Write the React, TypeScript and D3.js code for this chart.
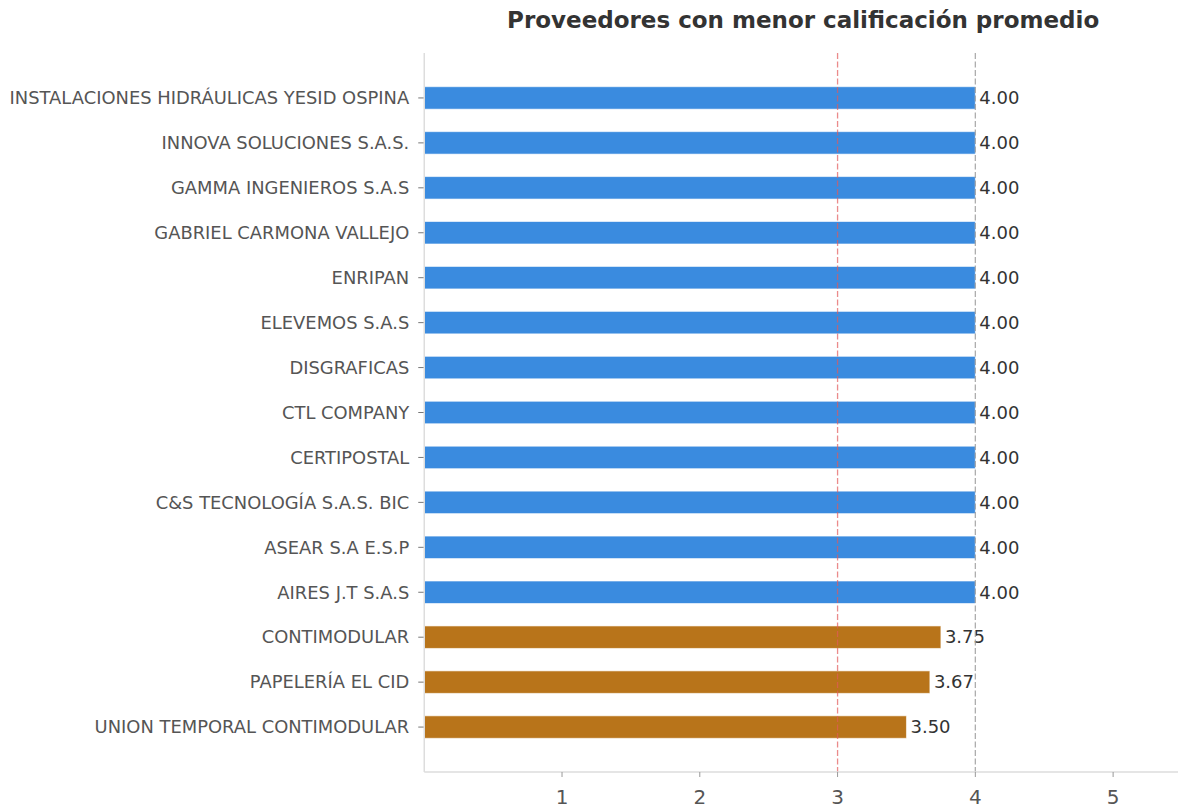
import React from 'react';
import * as d3 from 'd3';

const proveedores = [
  'INSTALACIONES HIDRÁULICAS YESID OSPINA',
  'INNOVA SOLUCIONES S.A.S.',
  'GAMMA INGENIEROS S.A.S',
  'GABRIEL CARMONA VALLEJO',
  'ENRIPAN',
  'ELEVEMOS S.A.S',
  'DISGRAFICAS',
  'CTL COMPANY',
  'CERTIPOSTAL',
  'C&S TECNOLOGÍA S.A.S. BIC',
  'ASEAR S.A E.S.P',
  'AIRES J.T S.A.S',
  'CONTIMODULAR',
  'PAPELERÍA EL CID',
  'UNION TEMPORAL CONTIMODULAR',
];
const calificaciones = [4, 4, 4, 4, 4, 4, 4, 4, 4, 4, 4, 4, 3.75, 3.67, 3.5];
const xTicks = [1, 2, 3, 4, 5];
const umbral = 3;
const maximo = 4;
const titulo = 'Proveedores con menor calificación promedio';

const W = 1178;
const H = 810;
const left = 424.25;
const right = 1182;
const top = 53;
const bottom = 772;

const App = () => {
  const x = d3.scaleLinear().domain([0, 5.5]).range([left, right]);
  const step = (bottom - top) / 16;
  const y = d3.scaleLinear().domain([-1, 15]).range([top, bottom]);
  const barH = step * 0.5;
  const font = 'DejaVu Sans, sans-serif';

  return (
    <svg width={W} height={H} style={{ position: 'absolute', left: 0, top: 0, fontFamily: font }}>
      <rect width={W} height={H} fill="#fff" />
      <text x={(left + right) / 2} y={28} textAnchor="middle" fontSize={23} fontWeight="bold" fill="#333">
        {titulo}
      </text>
      {proveedores.map((p, i) => {
        const v = calificaciones[i];
        const cy = y(i);
        return (
          <g key={p}>
            <rect
              x={x(0)}
              y={cy - barH / 2}
              width={x(v) - x(0)}
              height={barH}
              fill={v >= maximo ? '#3a8bdf' : '#b8741a'}
              stroke="#fff"
              strokeOpacity={0.6}
              strokeWidth={1}
            />
            <line x1={left - 6} x2={left} y1={cy} y2={cy} stroke="#777" strokeWidth={1} />
            <text x={left - 15} y={cy} dy="0.35em" textAnchor="end" fontSize={17.9} fill="#555">
              {p}
            </text>
            <text x={x(v) + 4} y={cy} dy="0.35em" fontSize={18} fill="#333">
              {d3.format('.2f')(v)}
            </text>
          </g>
        );
      })}
      <line x1={x(umbral)} x2={x(umbral)} y1={top} y2={bottom} stroke="#e25a5a" strokeOpacity={0.7} strokeDasharray="6,2.5" strokeWidth={1.3} />
      <line x1={x(maximo)} x2={x(maximo)} y1={top} y2={bottom} stroke="#999" strokeOpacity={0.8} strokeDasharray="6,2.5" strokeWidth={1.3} />
      <line x1={left} x2={left} y1={top} y2={bottom} stroke="#ddd" strokeWidth={1.5} />
      <line x1={left} x2={right} y1={bottom} y2={bottom} stroke="#ddd" strokeWidth={1.5} />
      {xTicks.map((t) => (
        <g key={t}>
          <line x1={x(t)} x2={x(t)} y1={bottom} y2={bottom + 5} stroke="#999" strokeWidth={1} />
          <text x={x(t)} y={bottom + 25} dy="0.35em" textAnchor="middle" fontSize={20} fill="#555">
            {t}
          </text>
        </g>
      ))}
    </svg>
  );
};

export default App;
